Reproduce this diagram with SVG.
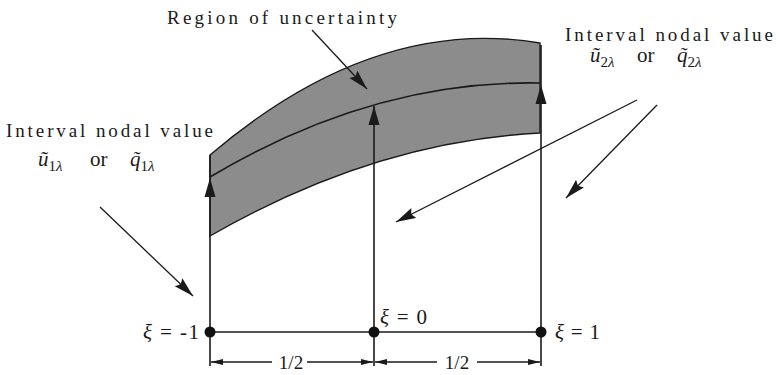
<svg xmlns="http://www.w3.org/2000/svg" width="780" height="375" viewBox="0 0 780 375">
<style>
.ln{stroke:#1a1a1a;stroke-width:1.6;fill:none}
.thin{stroke:#1a1a1a;stroke-width:1.3;fill:none}
.lbl{font-family:"Liberation Serif","Times New Roman",serif;font-size:19px;fill:#1a1a1a}
.math{font-family:"Liberation Serif","Times New Roman",serif;font-size:21px;fill:#1a1a1a}
.it{font-style:italic}
.sub{font-size:15px}
</style>
<defs>
<marker id="pa" markerUnits="userSpaceOnUse" markerWidth="22" markerHeight="12" refX="20" refY="5.5" orient="auto">
<path d="M0,0 L20,5.5 L0,11 L3,5.5 Z" fill="#1a1a1a"/>
</marker>
<marker id="da" markerUnits="userSpaceOnUse" markerWidth="14" markerHeight="8" refX="12" refY="3" orient="auto">
<path d="M0,0 L12,3 L0,6 Z" fill="#1a1a1a"/>
</marker>
<path id="vh" d="M0,0 L5.5,19 L-5.5,19 Z" fill="#1a1a1a"/>
</defs>

<g id="band">
<path d="M210,236 L210,155 Q374,15 540,43 L540,133 Q374,141.5 210,236 Z" fill="#8c8c8c" stroke="#1a1a1a" stroke-width="1.4"/>
<path class="ln" d="M210,177 Q372.5,80 540,83"/>
</g>

<g id="connectors">
<line class="ln" x1="210" y1="155" x2="210" y2="366"/>
<line class="ln" x1="374" y1="106" x2="374" y2="366"/>
<line class="ln" x1="541" y1="45" x2="541" y2="366"/>
<use href="#vh" x="210" y="178"/>
<use href="#vh" x="374" y="106"/>
<use href="#vh" x="541" y="85"/>
<line class="ln" x1="210" y1="332" x2="541" y2="332"/>
<line class="thin" x1="312" y1="30" x2="367" y2="89" marker-end="url(#pa)"/>
<line class="thin" x1="100" y1="207" x2="193" y2="296" marker-end="url(#pa)"/>
<line class="thin" x1="637" y1="100" x2="396" y2="222" marker-end="url(#pa)"/>
<line class="thin" x1="657" y1="105" x2="566" y2="198" marker-end="url(#pa)"/>
<line class="thin" x1="272" y1="362" x2="211" y2="362" marker-end="url(#da)"/>
<line class="thin" x1="307" y1="362" x2="373" y2="362" marker-end="url(#da)"/>
<line class="thin" x1="437" y1="362" x2="375" y2="362" marker-end="url(#da)"/>
<line class="thin" x1="477" y1="362" x2="540" y2="362" marker-end="url(#da)"/>
</g>

<g id="nodes">
<circle cx="210" cy="332" r="5.5" fill="#111"/>
<circle cx="374" cy="332" r="5.5" fill="#111"/>
<circle cx="541" cy="332" r="5.5" fill="#111"/>
</g>

<g id="labels">
<text class="lbl" x="167" y="24" textLength="230" lengthAdjust="spacing">Region of uncertainty</text>
<text class="lbl" x="6" y="137" textLength="207" lengthAdjust="spacing">Interval nodal value</text>
<text class="lbl" x="565" y="41" textLength="208" lengthAdjust="spacing">Interval nodal value</text>
<text class="math" x="38" y="166"><tspan class="it">ũ</tspan><tspan class="sub" dy="5">1</tspan><tspan class="sub it">λ</tspan><tspan dy="-5" x="90">or</tspan><tspan class="it" x="130">q̃</tspan><tspan class="sub" dy="5">1</tspan><tspan class="sub it">λ</tspan></text>
<text class="math" x="590" y="62"><tspan class="it">ũ</tspan><tspan class="sub" dy="5">2</tspan><tspan class="sub it">λ</tspan><tspan dy="-5" x="637">or</tspan><tspan class="it" x="677">q̃</tspan><tspan class="sub" dy="5">2</tspan><tspan class="sub it">λ</tspan></text>
<text class="math" x="143" y="339" textLength="56" lengthAdjust="spacing"><tspan class="it">ξ</tspan> = -1</text>
<text class="math" x="380" y="324" textLength="47" lengthAdjust="spacing"><tspan class="it">ξ</tspan> = 0</text>
<text class="math" x="555" y="339" textLength="45" lengthAdjust="spacing"><tspan class="it">ξ</tspan> = 1</text>
<text class="lbl" x="291" y="369" text-anchor="middle" font-size="20">1/2</text>
<text class="lbl" x="457" y="369" text-anchor="middle" font-size="20">1/2</text>
</g>
</svg>
